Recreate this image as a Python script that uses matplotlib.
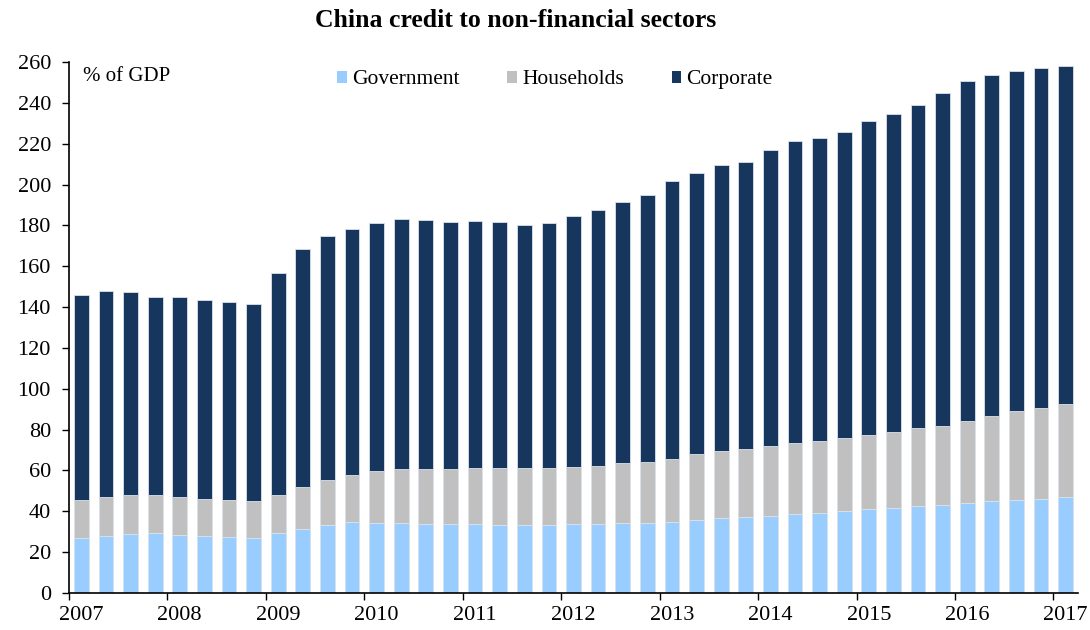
import numpy as np
import matplotlib
matplotlib.use("Agg")
import matplotlib.pyplot as plt
from matplotlib.patches import Patch

# Quarterly credit to non-financial sectors, % of GDP (2007Q1 - 2017Q1)
government = [27.1, 27.9, 28.7, 29.2, 28.6, 27.9, 27.4, 27.1,
              29.2, 31.2, 33.1, 34.6, 34.5, 34.3, 34.0, 33.6,
              33.6, 33.5, 33.5, 33.5, 33.6, 34.0, 34.3, 34.5,
              35.0, 35.9, 36.8, 37.4, 37.9, 38.9, 39.4, 40.3,
              41.0, 41.8, 42.6, 43.3, 44.1, 45.0, 45.7, 46.2, 46.9]
gov_plus_households = [45.4, 46.9, 48.0, 48.0, 47.2, 46.2, 45.7, 45.0,
                       48.0, 51.8, 55.5, 57.8, 59.9, 60.7, 60.9, 60.7,
                       61.2, 61.4, 61.2, 61.2, 61.5, 62.4, 63.6, 64.1,
                       65.8, 68.1, 69.5, 70.4, 72.2, 73.4, 74.6, 75.9,
                       77.4, 78.8, 80.6, 82.0, 84.2, 86.7, 89.1, 90.8, 92.4]
total = [146.0, 147.7, 147.5, 145.1, 144.8, 143.3, 142.3, 141.5,
         156.5, 168.3, 175.0, 178.1, 181.2, 183.0, 182.5, 181.7,
         182.0, 181.7, 180.0, 181.3, 184.6, 187.7, 191.6, 194.9,
         201.7, 205.8, 209.7, 211.0, 216.8, 221.2, 222.6, 225.9,
         230.9, 234.5, 238.9, 244.8, 250.5, 253.6, 255.6, 257.2, 257.9]
years = [str(y) for y in range(2007, 2018)]
series_names = ["Government", "Households", "Corporate"]

gov = np.array(government)
households = np.array(gov_plus_households) - gov
corporate = np.array(total) - np.array(gov_plus_households)

colors = ["#99CCFF", "#C0C0C0", "#17365D"]

plt.rcParams["font.family"] = ["Liberation Serif", "DejaVu Serif"]

fig = plt.figure(figsize=(10.9, 6.3), dpi=100)
ax = fig.add_axes([0.0633, 0.0587, 0.9257, 0.8429])

x = np.arange(len(gov))
w = 0.6
edge = dict(edgecolor="#D9E1EA", linewidth=0.6)
ax.bar(x, gov, w, color=colors[0], **edge)
ax.bar(x, households, w, bottom=gov, color=colors[1], **edge)
ax.bar(x, corporate, w, bottom=gov + households, color=colors[2], **edge)

ax.set_xlim(-0.5, len(gov) - 0.5)
ax.set_ylim(0, 260)
ax.set_yticks(np.arange(0, 261, 20))

# year boundaries as ticks, year labels under the first quarter
ax.set_xticks(np.arange(-0.5, len(gov), 4))
ax.set_xticklabels([])
ax.set_xticks(np.arange(0, len(gov), 4), minor=True)
ax.set_xticklabels(years, minor=True)
ax.tick_params(axis="x", which="minor", length=0, pad=9, labelsize=16)
ax.tick_params(axis="x", which="major", direction="out", length=5, width=1)
ax.tick_params(axis="y", direction="out", length=5, width=1, labelsize=16, pad=8)

for s in ["top", "right"]:
    ax.spines[s].set_visible(False)
for s in ["left", "bottom"]:
    ax.spines[s].set_linewidth(1.2)
    ax.spines[s].set_color("#000000")

fig.text(0.473, 0.968, "China credit to non-financial sectors", ha="center", va="center",
         fontsize=18.5, fontweight="bold")
ax.text(0.014, 0.99, "% of GDP", transform=ax.transAxes, ha="left", va="top", fontsize=15)

handles = [Patch(facecolor=c, edgecolor="none") for c in colors]
ax.legend(handles, series_names, ncol=3, loc="upper left",
          bbox_to_anchor=(0.266, 0.984), frameon=False, fontsize=15.5,
          borderpad=0, borderaxespad=0,
          handlelength=0.45, handleheight=0.45, handletextpad=0.25,
          columnspacing=2.2)

fig.savefig("out.png", dpi=100)
